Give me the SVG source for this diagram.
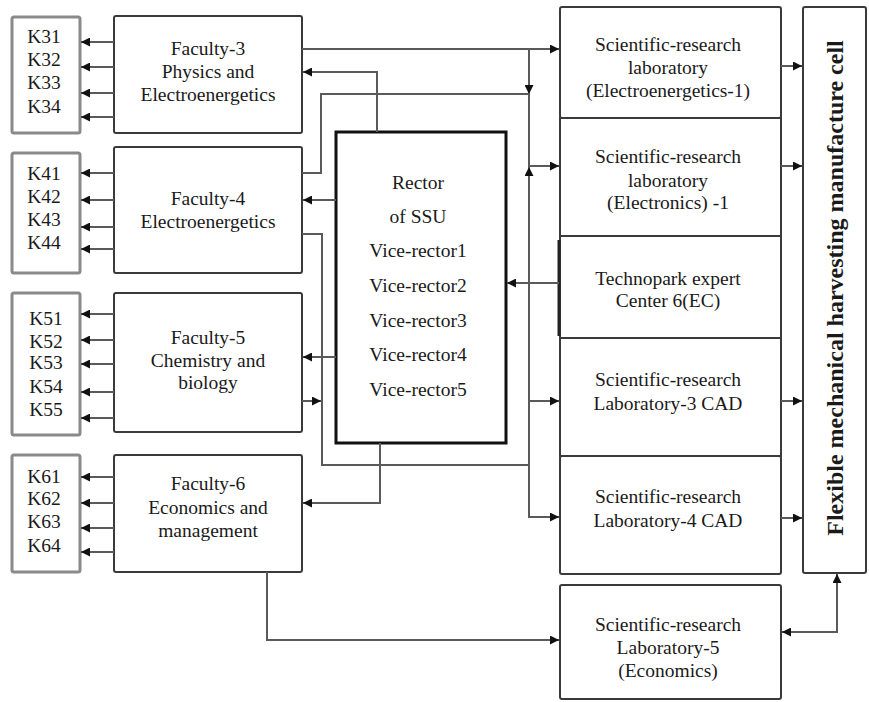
<svg xmlns="http://www.w3.org/2000/svg" width="869" height="702" viewBox="0 0 869 702">
<defs>
<marker id="ah" viewBox="0 0 10 10" refX="10" refY="5" markerWidth="9" markerHeight="9" markerUnits="userSpaceOnUse" orient="auto-start-reverse"><path d="M0,0 L10,5 L0,10 z" fill="#111"/></marker>
</defs>
<style>
.box{fill:#fff;stroke:#3a3a3a;stroke-width:2}
.kbox{fill:#fff;stroke:#8a8a8a;stroke-width:3}
.rector{fill:#fff;stroke:#111;stroke-width:3}
.c{fill:none;stroke:#5a5a5a;stroke-width:2}
.a{marker-end:url(#ah)}
.b{marker-start:url(#ah);marker-end:url(#ah)}
text{font-family:"Liberation Serif","Times New Roman",serif;font-size:19.5px;fill:#1a1a1a;text-anchor:middle}
.big{font-weight:bold;font-size:24px}
</style>
<rect width="869" height="702" fill="#fff"/>

<g id="k3"><rect class="kbox" x="12" y="17" width="68" height="116" rx="2"/>
<text x="44" y="43">K31</text><text x="44" y="66">K32</text><text x="44" y="89">K33</text><text x="44" y="113">K34</text></g>
<g id="faculty3"><rect class="box" x="114" y="16" width="188" height="117" rx="2"/>
<text x="208" y="55">Faculty-3</text><text x="208" y="78">Physics and</text><text x="208" y="101">Electroenergetics</text></g>

<g id="k4"><rect class="kbox" x="12" y="153" width="68" height="120" rx="2"/>
<text x="44" y="180">K41</text><text x="44" y="203">K42</text><text x="44" y="226">K43</text><text x="44" y="249">K44</text></g>
<g id="faculty4"><rect class="box" x="114" y="147" width="188" height="126" rx="2"/>
<text x="208" y="205">Faculty-4</text><text x="208" y="228">Electroenergetics</text></g>

<g id="k5"><rect class="kbox" x="12" y="293" width="68" height="142" rx="2"/>
<text x="46" y="325">K51</text><text x="46" y="348">K52</text><text x="46" y="369">K53</text><text x="46" y="393">K54</text><text x="46" y="416">K55</text></g>
<g id="faculty5"><rect class="box" x="114" y="293" width="188" height="139" rx="2"/>
<text x="208" y="344">Faculty-5</text><text x="208" y="367">Chemistry and</text><text x="208" y="389">biology</text></g>

<g id="k6"><rect class="kbox" x="12" y="455" width="68" height="117" rx="2"/>
<text x="44" y="483">K61</text><text x="44" y="505">K62</text><text x="44" y="528">K63</text><text x="44" y="552">K64</text></g>
<g id="faculty6"><rect class="box" x="114" y="455" width="188" height="117" rx="2"/>
<text x="208" y="490">Faculty-6</text><text x="208" y="514">Economics and</text><text x="208" y="537">management</text></g>

<g id="rector"><rect class="rector" x="336" y="132" width="170" height="311"/>
<text x="418" y="189">Rector</text><text x="418" y="223">of SSU</text><text x="418" y="257">Vice-rector1</text><text x="418" y="292">Vice-rector2</text><text x="418" y="327">Vice-rector3</text><text x="418" y="361">Vice-rector4</text><text x="418" y="396">Vice-rector5</text></g>

<g id="lab1"><rect class="box" x="560" y="7" width="221" height="111" rx="2"/>
<text x="668" y="51">Scientific-research</text><text x="668" y="74">laboratory</text><text x="668" y="97">(Electroenergetics-1)</text></g>
<g id="lab2"><rect class="box" x="560" y="118" width="221" height="118"/>
<text x="668" y="163">Scientific-research</text><text x="668" y="187">laboratory</text><text x="668" y="209">(Electronics) -1</text></g>
<g id="technopark"><rect class="box" x="560" y="236" width="221" height="102"/>
<line x1="559" y1="240" x2="559" y2="336" stroke="#222" stroke-width="3"/>
<text x="668" y="285">Technopark expert</text><text x="668" y="307">Center 6(EC)</text></g>
<g id="lab3"><rect class="box" x="560" y="338" width="221" height="118"/>
<text x="668" y="386">Scientific-research</text><text x="668" y="410">Laboratory-3 CAD</text></g>
<g id="lab4"><rect class="box" x="560" y="456" width="221" height="118" rx="2"/>
<text x="668" y="503">Scientific-research</text><text x="668" y="527">Laboratory-4 CAD</text></g>
<g id="lab5"><rect class="box" x="560" y="585" width="221" height="114" rx="2"/>
<text x="668" y="631">Scientific-research</text><text x="668" y="654">Laboratory-5</text><text x="668" y="677">(Economics)</text></g>

<g id="fmhmc"><rect class="box" x="803" y="7" width="63" height="566" rx="2"/>
<text class="big" transform="translate(843,288) rotate(-90)">Flexible mechanical harvesting manufacture cell</text></g>

<g id="connectors">
<path class="c a" d="M114,42 H81"/><path class="c a" d="M114,67 H81"/><path class="c a" d="M114,93 H81"/><path class="c a" d="M114,117 H81"/>
<path class="c a" d="M114,173 H81"/><path class="c a" d="M114,200 H81"/><path class="c a" d="M114,227 H81"/><path class="c a" d="M114,249 H81"/>
<path class="c a" d="M114,314 H81"/><path class="c a" d="M114,340 H81"/><path class="c a" d="M114,364 H81"/><path class="c a" d="M114,392 H81"/><path class="c a" d="M114,418 H81"/>
<path class="c a" d="M114,477 H81"/><path class="c a" d="M114,503 H81"/><path class="c a" d="M114,528 H81"/><path class="c a" d="M114,552 H81"/>

<path class="c a" d="M302,49 H559"/>
<path class="c a" d="M529,49 V94"/>
<path class="c" d="M529,94 H321 V173 H302"/>
<path class="c a" d="M377,132 V72 H303"/>
<path class="c a" d="M336,200 H303"/>
<path class="c" d="M302,234 H322 V465 H529"/>
<path class="c a" d="M336,357 H303"/>
<path class="c a" d="M302,401 H321"/>
<path class="c a" d="M380,443 V503 H303"/>
<path class="c a" d="M529,94 V517 H559"/>
<path class="c a" d="M529,300 V167"/>
<path class="c a" d="M529,166 H559"/>
<path class="c a" d="M529,401 H559"/>
<path class="c a" d="M559,283 H507"/>
<path class="c a" d="M781,66 H802"/>
<path class="c a" d="M781,166 H802"/>
<path class="c a" d="M781,401 H802"/>
<path class="c a" d="M781,518 H802"/>
<path class="c a" d="M267,572 V640 H559"/>
<path class="c b" d="M782,632 H837 V574"/>
</g>
</svg>
